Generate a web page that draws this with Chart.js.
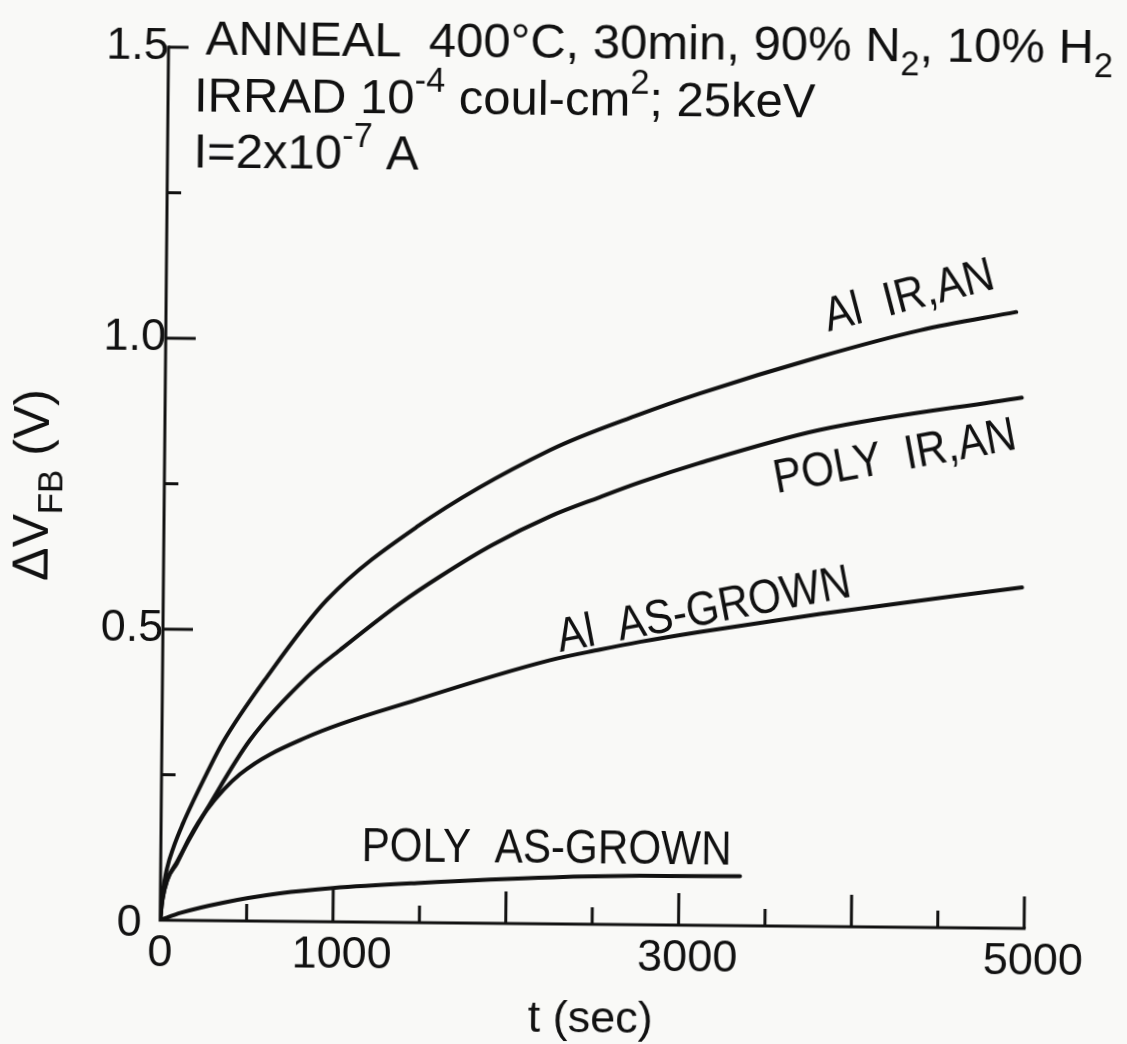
<!DOCTYPE html>
<html>
<head>
<meta charset="utf-8">
<script src="https://cdn.jsdelivr.net/npm/chart.js@4.4.0/dist/chart.umd.min.js"></script>
<style>
  html, body { margin: 0; padding: 0; background: #f9f9f7; overflow: hidden; }
  /* the original plot sits very slightly skewed on the page */
  #wrap { width: 1127px; height: 1044px; transform: rotate(0.55deg); transform-origin: 50% 50%; }
</style>
</head>
<body>
<div id="wrap"><canvas id="vfb" width="1127" height="1044"></canvas></div>
<script>
// axis ticks (t in seconds, dV in volts)
const xTicks = [500, 1000, 1500, 2000, 2500, 3000, 3500, 4000, 4500, 5000];
const xMajor = [1000, 2000, 3000, 4000, 5000];
const xLabelValues = [0, 1000, 3000, 5000];
const xLabelText = ['0', '1000', '3000', '5000'];
const yTicks = [0.25, 0.5, 0.75, 1.0, 1.25, 1.5];
const yMajor = [0.5, 1.0];
const yLabelValues = [0, 0.5, 1.0, 1.5];
const yLabelText = ['0', '0.5', '1.0', '1.5'];

// flat-band shift vs time
const tAlIrAn = [0, 10, 36, 75, 126, 183, 260, 354, 605, 947, 1464, 2230, 2747, 3094, 3787, 4365, 4920];
const vAlIrAn = [0, 0.04, 0.088, 0.127, 0.166, 0.204, 0.252, 0.307, 0.42, 0.553, 0.68, 0.814, 0.877, 0.914, 0.979, 1.026, 1.059];

const tPolyIrAn = [0, 12, 40, 94, 165, 265, 510, 836, 1025, 1370, 1600, 1900, 2233, 2521, 2751, 3093, 3788, 4957];
const vPolyIrAn = [0, 0.035, 0.07, 0.1, 0.14, 0.192, 0.311, 0.42, 0.467, 0.548, 0.595, 0.65, 0.70, 0.734, 0.76, 0.794, 0.853, 0.912];

const tAlGrown = [0, 12, 40, 94, 165, 264, 454, 840, 1474, 2241, 2530, 2761, 3102, 3801, 4969];
const vAlGrown = [0, 0.035, 0.07, 0.098, 0.142, 0.19, 0.252, 0.317, 0.383, 0.453, 0.472, 0.486, 0.504, 0.537, 0.586];

const tPolyGrown = [0, 120, 363, 692, 998, 1484, 2271, 2774, 3353];
const vPolyGrown = [0, 0.013, 0.031, 0.048, 0.058, 0.068, 0.080, 0.084, 0.085];

const INK = '#111111';
const FONT = '"Liberation Sans", Arial, sans-serif';

const pts = (ts, vs) => ts.map((t, i) => ({ x: t, y: vs[i] }));

const curve = (label, ts, vs) => ({
  label,
  data: pts(ts, vs),
  borderColor: INK,
  borderWidth: 4,
  pointRadius: 0,
  fill: false,
  cubicInterpolationMode: 'monotone',
  borderCapStyle: 'round',
  borderJoinStyle: 'round'
});

// text with sub/superscript runs
function drawRich(ctx, parts, x, y, size, align) {
  let w = 0;
  const runs = parts.map(p => {
    const fs = p.s ? size * 0.7 : size;
    ctx.font = `${fs}px ${FONT}`;
    const pw = ctx.measureText(p.t).width;
    w += pw;
    return { t: p.t, s: p.s, fs, pw };
  });
  let cx = align === 'center' ? x - w / 2 : x;
  ctx.textAlign = 'left';
  ctx.textBaseline = 'alphabetic';
  runs.forEach(r => {
    ctx.font = `${r.fs}px ${FONT}`;
    const dy = r.s === 'sub' ? size * 0.28 : r.s === 'sup' ? -size * 0.45 : 0;
    ctx.fillText(r.t, cx, y + dy);
    cx += r.pw;
  });
}

// curve captions, placed in data units
const captions = [
  { text: 'Al  IR,AN', t: 4300, v: 1.083, angle: -15 },
  { text: 'POLY  IR,AN', t: 4227, v: 0.806, angle: -11 },
  { text: 'Al  AS-GROWN', t: 3130, v: 0.540, angle: -11.3 },
  { text: 'POLY  AS-GROWN', t: 2232, v: 0.128, angle: 0 }
];

const handAxes = {
  id: 'handAxes',
  afterDatasetsDraw(chart) {
    const { ctx, scales: { x, y } } = chart;
    const x0 = x.getPixelForValue(0);
    const y0 = y.getPixelForValue(0);
    const xEnd = x.getPixelForValue(5000);
    const yTop = y.getPixelForValue(1.5);

    ctx.save();
    ctx.strokeStyle = INK;
    ctx.fillStyle = INK;
    ctx.lineWidth = 3;
    ctx.lineCap = 'square';

    // axis lines
    ctx.beginPath();
    ctx.moveTo(x0, yTop);
    ctx.lineTo(x0, y0);
    ctx.lineTo(xEnd, y0);
    ctx.stroke();

    // inward ticks
    ctx.lineCap = 'butt';
    xTicks.forEach(v => {
      const px = x.getPixelForValue(v);
      const len = xMajor.includes(v) ? 32 : 17;
      ctx.beginPath();
      ctx.moveTo(px, y0);
      ctx.lineTo(px, y0 - len);
      ctx.stroke();
    });
    yTicks.forEach(v => {
      const py = y.getPixelForValue(v);
      const len = yMajor.includes(v) ? 30 : (v === 1.5 ? 20 : 14);
      ctx.beginPath();
      ctx.moveTo(x0, py);
      ctx.lineTo(x0 + len, py);
      ctx.stroke();
    });

    // tick labels
    ctx.font = `45px ${FONT}`;
    ctx.textAlign = 'center';
    ctx.textBaseline = 'middle';
    xLabelValues.forEach((v, i) => {
      const dx = v === 0 ? 0 : 9;
      ctx.fillText(xLabelText[i], x.getPixelForValue(v) + dx, y0 + 34);
    });
    yLabelValues.forEach((v, i) => {
      const dy = v === 0 ? 4 : 0;
      ctx.fillText(yLabelText[i], x0 - 31, y.getPixelForValue(v) + dy);
    });

    // axis titles
    ctx.textBaseline = 'alphabetic';
    ctx.font = `45px ${FONT}`;
    ctx.fillText('t (sec)', 595, 1032);

    ctx.save();
    ctx.translate(48, 490);
    ctx.rotate(-Math.PI / 2);
    drawRich(ctx, [{ t: 'ΔV' }, { t: 'FB', s: 'sub' }, { t: ' (V)' }], 0, 0, 50, 'center');
    ctx.restore();

    // curve captions
    captions.forEach(c => {
      ctx.save();
      ctx.translate(x.getPixelForValue(c.t), y.getPixelForValue(c.v));
      ctx.rotate(c.angle * Math.PI / 180);
      ctx.scale(0.88, 1);
      ctx.font = `48px ${FONT}`;
      ctx.textAlign = 'center';
      ctx.textBaseline = 'middle';
      ctx.fillText(c.text, 0, 0);
      ctx.restore();
    });

    // run conditions
    drawRich(ctx, [
      { t: 'ANNEAL  400°C, 30min, 90% N' }, { t: '2', s: 'sub' },
      { t: ', 10% H' }, { t: '2', s: 'sub' }
    ], 201, 58, 49);
    drawRich(ctx, [
      { t: 'IRRAD 10' }, { t: '-4', s: 'sup' },
      { t: ' coul-cm' }, { t: '2', s: 'sup' }, { t: '; 25keV' }
    ], 190, 115, 49);
    drawRich(ctx, [
      { t: 'I=2x10' }, { t: '-7', s: 'sup' }, { t: ' A' }
    ], 190, 171, 49);

    ctx.restore();
  }
};

new Chart(document.getElementById('vfb'), {
  type: 'line',
  data: {
    datasets: [
      curve('Al IR,AN', tAlIrAn, vAlIrAn),
      curve('POLY IR,AN', tPolyIrAn, vPolyIrAn),
      curve('Al AS-GROWN', tAlGrown, vAlGrown),
      curve('POLY AS-GROWN', tPolyGrown, vPolyGrown)
    ]
  },
  options: {
    responsive: false,
    animation: false,
    events: [],
    layout: { padding: { left: 164, right: 99, top: 51, bottom: 120 } },
    scales: {
      x: { type: 'linear', min: 0, max: 5000, display: false },
      y: { type: 'linear', min: 0, max: 1.5, display: false }
    },
    plugins: {
      legend: { display: false },
      tooltip: { enabled: false }
    }
  },
  plugins: [handAxes]
});
</script>
</body>
</html>
